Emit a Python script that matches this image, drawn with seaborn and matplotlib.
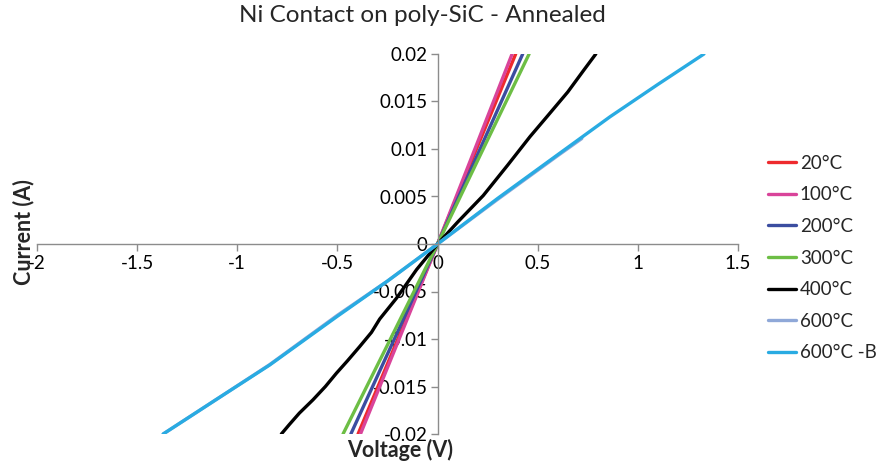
import matplotlib
matplotlib.use("Agg")
import matplotlib.pyplot as plt
import seaborn as sns
import pandas as pd

# I-V sweeps per anneal temperature (voltage in V, current in A)
v_20 = [-0.397, -0.20, 0.0, 0.20, 0.390]
i_20 = [-0.0200, -0.0101, 0.0, 0.0103, 0.0200]

v_100 = [-0.385, -0.19, 0.0, 0.19, 0.372]
i_100 = [-0.0200, -0.0099, 0.0, 0.0102, 0.0200]

v_200 = [-0.433, -0.22, 0.0, 0.21, 0.425]
i_200 = [-0.0200, -0.0102, 0.0, 0.0099, 0.0200]

v_300 = [-0.472, -0.24, 0.0, 0.23, 0.457]
i_300 = [-0.0200, -0.0102, 0.0, 0.0101, 0.0200]

v_400 = [-0.78, -0.74, -0.69, -0.622, -0.56, -0.505, -0.45, -0.389, -0.33,
         -0.289, -0.205, -0.105, 0.0, 0.10, 0.228, 0.35, 0.4615, 0.55,
         0.65, 0.73, 0.79]
i_400 = [-0.0200, -0.0190, -0.0178, -0.0164, -0.0150, -0.0136, -0.0123,
         -0.0108, -0.0093, -0.0079, -0.0057, -0.0027, 0.0, 0.0023, 0.0051,
         0.0083, 0.0113, 0.0135, 0.0160, 0.0183, 0.0200]

v_600 = [-1.37, -1.10, -0.8385, -0.50, -0.25, 0.0, 0.30, 0.60, 0.72]
i_600 = [-0.0200, -0.0163, -0.0127, -0.0075, -0.0039, 0.0, 0.0047, 0.0093, 0.0111]

v_600b = [-1.37, -1.10, -0.8385, -0.50, -0.25, 0.0, 0.30, 0.60, 0.8615, 1.10, 1.33]
i_600b = [-0.0200, -0.0163, -0.01274, -0.0076, -0.0039, 0.0, 0.0048, 0.0094,
          0.0134, 0.0168, 0.0200]

series = ["20°C", "100°C", "200°C", "300°C", "400°C", "600°C", "600°C -B"]
voltages = [v_20, v_100, v_200, v_300, v_400, v_600, v_600b]
currents = [i_20, i_100, i_200, i_300, i_400, i_600, i_600b]
colors = ["#EE2A2E", "#D9449A", "#3B4DA0", "#6DBE45", "#000000", "#8FA8D8", "#29ABE2"]

x_ticks = [-2, -1.5, -1, -0.5, 0, 0.5, 1, 1.5]
x_tick_labels = ["-2", "-1.5", "-1", "-0.5", "0", "0.5", "1", "1.5"]
y_ticks = [-0.02, -0.015, -0.01, -0.005, 0, 0.005, 0.01, 0.015, 0.02]
y_tick_labels = ["-0.02", "-0.015", "-0.01", "-0.005", "0", "0.005", "0.01", "0.015", "0.02"]

rows = []
for name, vs, cs in zip(series, voltages, currents):
    for v, c in zip(vs, cs):
        rows.append({"Anneal": name, "Voltage": v, "Current": c})
df = pd.DataFrame(rows)

sns.set_theme(style="white")
plt.rcParams["font.family"] = ["Lato", "DejaVu Sans"]

fig = plt.figure(figsize=(8.85, 4.65), dpi=100)
ax = fig.add_axes([37 / 885, 1 - 434 / 465, (738 - 37) / 885, (434 - 54) / 465])

sns.lineplot(data=df, x="Voltage", y="Current", hue="Anneal", hue_order=series,
             palette=dict(zip(series, colors)), estimator=None, sort=False,
             units="Anneal", linewidth=2.4, ax=ax, legend=True)

ax.set_xlim(-2, 1.5)
ax.set_ylim(-0.02, 0.02)
ax.set_xticks(x_ticks)
ax.set_xticklabels(x_tick_labels)
ax.set_yticks(y_ticks)
ax.set_yticklabels(y_tick_labels)

axis_grey = "#8C8C8C"
for side in ["top", "right"]:
    ax.spines[side].set_visible(False)
ax.spines["left"].set_position(("data", 0))
ax.spines["bottom"].set_position(("data", 0))
for side in ["left", "bottom"]:
    ax.spines[side].set_color(axis_grey)
    ax.spines[side].set_linewidth(1.0)
ax.tick_params(axis="both", direction="out", length=5, width=1.0,
               color=axis_grey, labelsize=13.5, labelcolor="black",
               left=True, bottom=True)
ax.tick_params(axis="y", pad=2)
ax.tick_params(axis="x", pad=3)
ax.set_xlabel("")
ax.set_ylabel("")
ax.grid(False)

fig.text(422 / 885, 1 - 16 / 465, "Ni Contact on poly-SiC - Annealed",
         ha="center", va="center", fontsize=17.5)
fig.text(400 / 885, 1 - 450 / 465, "Voltage (V)", ha="center", va="center",
         fontsize=15.5, fontweight="bold")
fig.text(24 / 885, 1 - 232 / 465, "Current (A)", ha="center", va="center",
         fontsize=15.5, fontweight="bold", rotation=90)

handles, labels = ax.get_legend_handles_labels()
ax.legend(handles, labels, loc="center left", bbox_to_anchor=(768 / 885, 1 - 258 / 465),
          bbox_transform=fig.transFigure, frameon=False, fontsize=13.5,
          borderpad=0, borderaxespad=0, handlelength=1.5, handletextpad=0.2,
          labelspacing=0.78)

fig.savefig("out.png", dpi=100)
